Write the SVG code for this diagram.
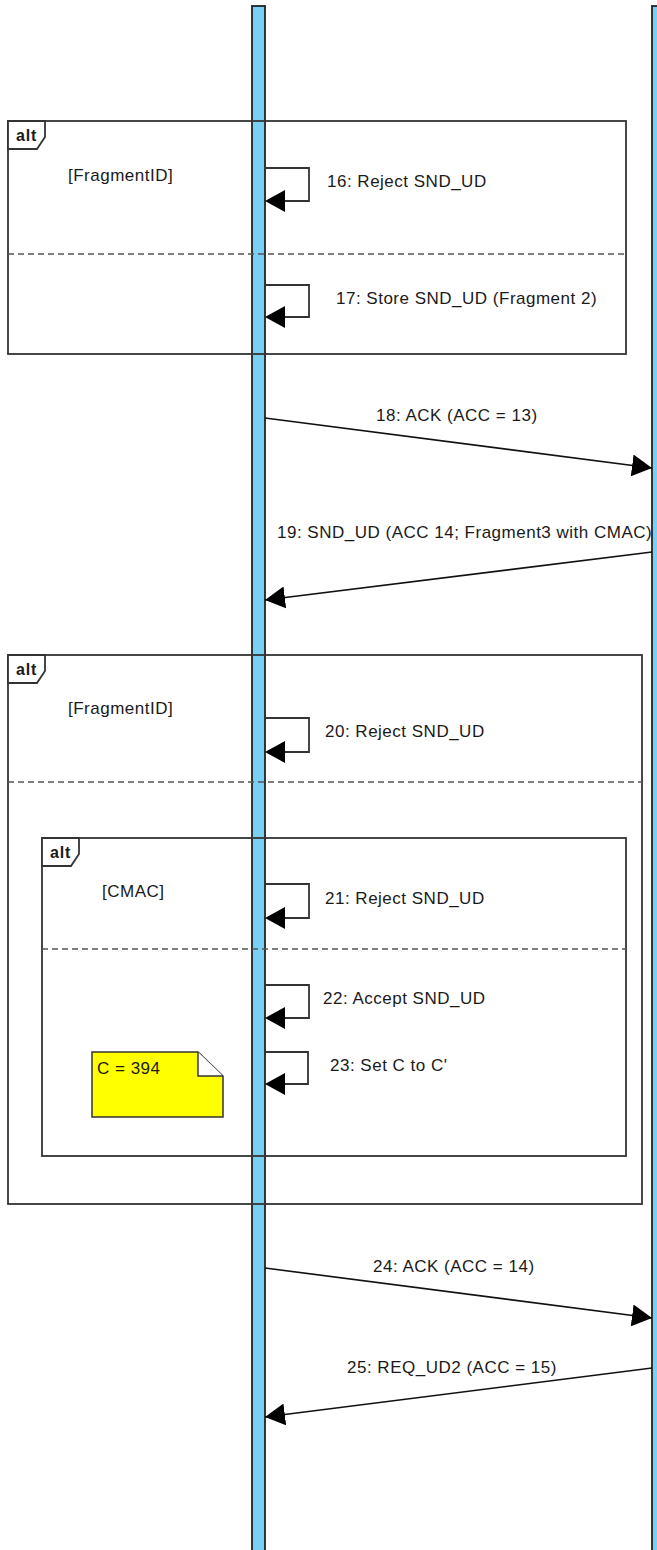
<svg xmlns="http://www.w3.org/2000/svg" width="657" height="1550" viewBox="0 0 657 1550">
<style>
.bar{fill:#7ACFF5;stroke:#222;stroke-width:1.8}
.frame{fill:none;stroke:#333;stroke-width:1.8}
.tab{fill:#fff;stroke:#333;stroke-width:1.8}
.dash{stroke:#555;stroke-width:1.6;stroke-dasharray:6 4}
.msg{fill:none;stroke:#111;stroke-width:1.6}
.self{fill:none;stroke:#333;stroke-width:1.8}
.t{font-family:"Liberation Sans",Arial,sans-serif;font-size:17px;letter-spacing:0.5px;fill:#1a1a1a}
.alt{font-family:"Liberation Sans",Arial,sans-serif;font-size:16px;font-weight:bold;letter-spacing:0.8px;fill:#1a1a1a}
.head{fill:#000}
</style>
<defs>
<marker id="arr" markerUnits="userSpaceOnUse" markerWidth="22" markerHeight="24" refX="20" refY="11" orient="auto">
<path d="M0,0 L20,11 L0,22 z" fill="#000"/>
</marker>
</defs>
<rect width="657" height="1550" fill="#fff"/>
<g id="lifeline-left"><rect class="bar" x="252" y="6" width="13" height="1550"/></g>
<g id="lifeline-right"><rect class="bar" x="652" y="6" width="13" height="1550"/></g>

<g id="alt1">
<rect class="frame" x="8" y="121" width="618" height="233"/>
<path class="tab" d="M8,121 H45 V137 L37,149 H8 Z"/>
<text class="alt" x="16" y="141">alt</text>
<text class="t" x="68" y="181">[FragmentID]</text>
<line class="dash" x1="8" y1="254" x2="626" y2="254"/>
</g>

<g id="alt2">
<rect class="frame" x="8" y="655" width="634" height="549"/>
<path class="tab" d="M8,655 H45 V671 L37,683 H8 Z"/>
<text class="alt" x="16" y="675">alt</text>
<text class="t" x="68" y="714">[FragmentID]</text>
<line class="dash" x1="8" y1="782" x2="642" y2="782"/>
</g>

<g id="alt3">
<rect class="frame" x="42" y="838" width="584" height="318"/>
<path class="tab" d="M42,838 H79 V854 L71,866 H42 Z"/>
<text class="alt" x="50" y="858">alt</text>
<text class="t" x="102" y="897">[CMAC]</text>
<line class="dash" x1="42" y1="949" x2="626" y2="949"/>
</g>

<g id="note">
<path d="M92,1052 H198 L223,1076 V1117 H92 Z" fill="#FFFF00" stroke="#333" stroke-width="1.5"/>
<path d="M198,1052 V1076 H223" fill="#fff" stroke="#333" stroke-width="1.5"/>
<text class="t" x="97" y="1074">C = 394</text>
</g>

<g id="connectors">
<path class="self" d="M265,168 H309 V201 H285"/><path class="head" d="M265,201 L285,190 L285,212 z"/>
<path class="self" d="M265,285 H309 V317 H285"/><path class="head" d="M265,317 L285,306 L285,328 z"/>
<line class="msg" x1="265" y1="418" x2="652" y2="468" marker-end="url(#arr)"/>
<line class="msg" x1="652" y1="552" x2="265" y2="600" marker-end="url(#arr)"/>
<path class="self" d="M265,718 H309 V752 H285"/><path class="head" d="M265,752 L285,741 L285,763 z"/>
<path class="self" d="M265,884 H309 V918 H285"/><path class="head" d="M265,918 L285,907 L285,929 z"/>
<path class="self" d="M265,985 H309 V1018 H285"/><path class="head" d="M265,1018 L285,1007 L285,1029 z"/>
<path class="self" d="M265,1052 H308 V1084 H285"/><path class="head" d="M265,1084 L285,1073 L285,1095 z"/>
<line class="msg" x1="265" y1="1268" x2="652" y2="1318" marker-end="url(#arr)"/>
<line class="msg" x1="652" y1="1368" x2="265" y2="1417" marker-end="url(#arr)"/>
</g>

<g id="labels">
<text class="t" x="327" y="187">16: Reject SND_UD</text>
<text class="t" x="336" y="304">17: Store SND_UD (Fragment 2)</text>
<text class="t" x="376" y="421">18: ACK (ACC = 13)</text>
<text class="t" x="277" y="538">19: SND_UD (ACC 14; Fragment3 with CMAC)</text>
<text class="t" x="325" y="737">20: Reject SND_UD</text>
<text class="t" x="325" y="904">21: Reject SND_UD</text>
<text class="t" x="323" y="1004">22: Accept SND_UD</text>
<text class="t" x="330" y="1071">23: Set C to C'</text>
<text class="t" x="373" y="1272">24: ACK (ACC = 14)</text>
<text class="t" x="347" y="1373">25: REQ_UD2 (ACC = 15)</text>
</g>
</svg>
